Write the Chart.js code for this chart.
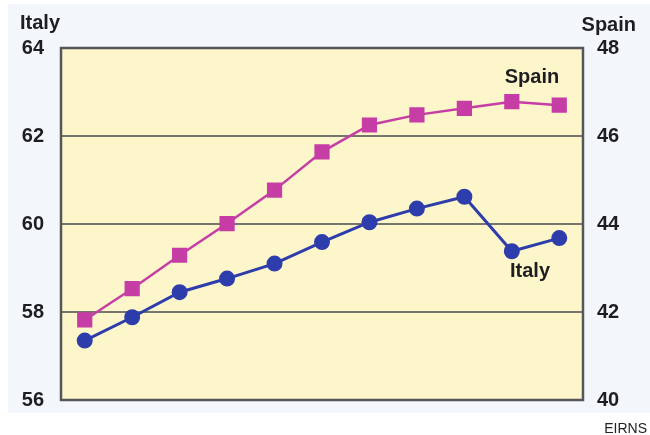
<!DOCTYPE html>
<html>
<head>
<meta charset="utf-8">
<style>
  html, body { margin: 0; padding: 0; background: #ffffff; }
  #wrap { width: 650px; height: 435px; position: relative; }
</style>
<script src="https://cdn.jsdelivr.net/npm/chart.js@4.4.1/dist/chart.umd.min.js"></script>
</head>
<body>
<div id="wrap"><canvas id="chart" width="650" height="435"></canvas></div>
<script>
// DATA
const periods = ['1', '2', '3', '4', '5', '6', '7', '8', '9', '10', '11'];
const italyValues = [57.35, 57.88, 58.45, 58.76, 59.10, 59.59, 60.04, 60.35, 60.62, 59.38, 59.68];
const spainValues = [41.82, 42.53, 43.29, 44.01, 44.77, 45.64, 46.25, 46.48, 46.63, 46.78, 46.70];
const italyTicks = [56, 58, 60, 62, 64];
const spainTicks = [40, 42, 44, 46, 48];

const ITALY_COLOR = '#2d3dab';
const SPAIN_COLOR = '#c63da6';
const FONT = '"Liberation Sans", Arial, Helvetica, sans-serif';

// background, plot frame and text labels
const decor = {
  id: 'decor',
  beforeDraw(chart) {
    const { ctx, chartArea: a } = chart;
    ctx.save();
    ctx.fillStyle = '#f3f7fb';
    ctx.fillRect(8, 4, 642, 409);
    ctx.fillStyle = '#fcf6ca';
    ctx.fillRect(a.left, a.top, a.right - a.left, a.bottom - a.top);
    ctx.restore();
  },
  afterDatasetsDraw(chart) {
    const { ctx, chartArea: a } = chart;
    ctx.save();
    ctx.strokeStyle = '#56565a';
    ctx.lineWidth = 2.5;
    ctx.strokeRect(a.left, a.top, a.right - a.left, a.bottom - a.top);

    ctx.fillStyle = '#1e1e22';
    ctx.textBaseline = 'alphabetic';
    ctx.font = 'bold 20px ' + FONT;
    ctx.textAlign = 'left';
    ctx.fillText('Italy', 20, 29);
    ctx.textAlign = 'right';
    ctx.fillText('Spain', 636, 31);

    ctx.textAlign = 'center';
    ctx.fillText('Spain', 532, 83);
    ctx.fillText('Italy', 530, 277);

    ctx.font = '14px ' + FONT;
    ctx.textAlign = 'right';
    ctx.fillStyle = '#222';
    ctx.fillText('EIRNS', 647, 433);
    ctx.restore();
  }
};

const tickFont = { family: FONT, size: 20, weight: 'bold' };

new Chart(document.getElementById('chart'), {
  type: 'line',
  data: {
    labels: periods,
    datasets: [
      {
        label: 'Spain',
        data: spainValues,
        yAxisID: 'ySpain',
        borderColor: SPAIN_COLOR,
        backgroundColor: SPAIN_COLOR,
        borderWidth: 2.5,
        pointStyle: 'rect',
        pointRadius: 9,
        tension: 0
      },
      {
        label: 'Italy',
        data: italyValues,
        yAxisID: 'yItaly',
        borderColor: ITALY_COLOR,
        backgroundColor: ITALY_COLOR,
        borderWidth: 3,
        pointStyle: 'circle',
        pointRadius: 6.5,
        tension: 0
      }
    ]
  },
  options: {
    responsive: false,
    animation: false,
    events: [],
    layout: { padding: { left: 0, right: 0, top: 48, bottom: 35 } },
    plugins: { legend: { display: false }, tooltip: { enabled: false } },
    scales: {
      x: {
        display: false,
        offset: true
      },
      yItaly: {
        position: 'left',
        min: 56, max: 64,
        afterBuildTicks(s) { s.ticks = italyTicks.map(v => ({ value: v })); },
        afterFit(s) { s.width = 61; },
        border: { display: false },
        grid: {
          drawTicks: false,
          lineWidth: 2,
          color: c => (c.tick && (c.tick.value === 56 || c.tick.value === 64)) ? 'rgba(0,0,0,0)' : '#76766c'
        },
        ticks: { font: tickFont, color: '#1e1e22', padding: 17 }
      },
      ySpain: {
        position: 'right',
        min: 40, max: 48,
        afterBuildTicks(s) { s.ticks = spainTicks.map(v => ({ value: v })); },
        afterFit(s) { s.width = 67; },
        border: { display: false },
        grid: { display: false, drawTicks: false },
        ticks: { font: tickFont, color: '#1e1e22', padding: 14 }
      }
    }
  },
  plugins: [decor]
});
</script>
</body>
</html>
